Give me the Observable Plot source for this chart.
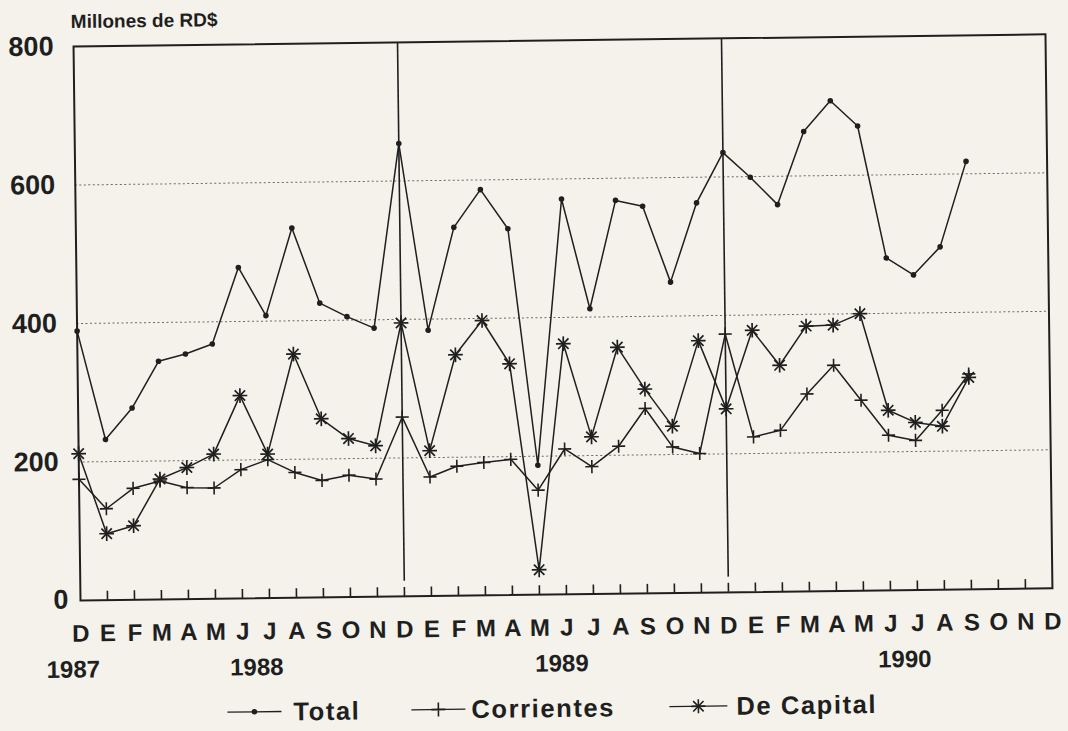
<!DOCTYPE html>
<html>
<head>
<meta charset="utf-8">
<script src="https://cdn.jsdelivr.net/npm/d3@7"></script>
<script src="https://cdn.jsdelivr.net/npm/@observablehq/plot@0.6"></script>
<style>
  html, body { margin: 0; padding: 0; background: #f4f2ea; overflow: hidden; }
  #page { position: relative; width: 1068px; height: 731px; transform: rotate(-0.72deg); transform-origin: 80px 600px; }
  #overlay { position: absolute; left: 0; top: 0; pointer-events: none; }
  #chart { position: absolute; left: 0; top: 0; }
</style>
</head>
<body>
<div id="page">
  <div id="chart"></div>
  <svg id="overlay" width="1068" height="731" font-family="'Liberation Sans', Arial, sans-serif" font-weight="bold" fill="#1f1f1f">
    <text x="78" y="28" font-size="19">Millones de RD$</text>
    <g id="legend"></g>
  </svg>
</div>
<script>
// ---- data (monthly, Dec 1987 .. Sep 1990), millones de RD$ ----
const monthLetters = ["D","E","F","M","A","M","J","J","A","S","O","N",
                      "D","E","F","M","A","M","J","J","A","S","O","N",
                      "D","E","F","M","A","M","J","J","A","S","O","N","D"];
const total = [389, 232, 277, 344, 354, 368, 478, 408, 534, 425, 405, 388,
               654, 384, 532, 586, 529, 187, 571, 412, 568, 559, 449, 563,
               635, 599, 559, 664, 708, 671, 480, 455, 495, 618];
const corrientes = [175, 132, 161, 171, 161, 160, 186, 200, 181, 169, 176, 170,
                    259, 172, 187, 192, 196, 151, 210, 184, 213, 267, 211, 201,
                    373, 224, 233, 285, 326, 275, 224, 216, 259, 311];
const deCapital = [212, 96, 107, 174, 190, 209, 293, 208, 352, 258, 229, 218,
                   395, 210, 348, 397, 334, 36, 362, 227, 356, 295, 241, 364,
                   265, 378, 327, 383, 384, 400, 260, 242, 236, 306];
const yTicks = [200, 400, 600, 800];
const gridValues = [200, 400, 600];
const yearLabels = ["1987", "1988", "1989", "1990"];
const yearAt = [-0.3, 6.5, 17.8, 30.5];   // month index under which each year label sits
const yearDividers = [12, 24];             // December of 1988 and 1989
const seriesNames = ["Total", "Corrientes", "De Capital"];

const rows = total.map((v, i) => ({i, total: v, corr: corrientes[i], cap: deCapital[i]}));
const ink = "#1f1f1f";
const font = "'Liberation Sans', Arial, sans-serif";

const chart = Plot.plot({
  width: 1068,
  height: 731,
  marginLeft: 80,
  marginRight: 16,
  marginTop: 46,
  marginBottom: 131,
  x: {domain: [0, monthLetters.length - 1], axis: null},
  y: {domain: [0, 800], axis: null},
  style: {background: "transparent", fontFamily: font, color: ink, overflow: "visible"},
  marks: [
    Plot.ruleY(gridValues, {y: d => d, stroke: "#6a6a66", strokeWidth: 1, strokeDasharray: "2,2.5"}),
    Plot.ruleX(yearDividers, {x: d => d, y1: 22, y2: 800, stroke: ink, strokeWidth: 1.6}),
    Plot.ruleX(d3.range(1, monthLetters.length - 1), {x: d => d, y1: 0, y2: 13, stroke: ink, strokeWidth: 1.6}),
    Plot.frame({stroke: ink, strokeWidth: 2}),
    Plot.line(rows, {x: "i", y: "total", stroke: ink, strokeWidth: 1.5}),
    Plot.dot(rows, {x: "i", y: "total", r: 2.8, fill: ink}),
    Plot.line(rows, {x: "i", y: "corr", stroke: ink, strokeWidth: 1.5}),
    Plot.dot(rows, {x: "i", y: "corr", symbol: "plus", r: 4.3, stroke: ink, strokeWidth: 1.6}),
    Plot.line(rows, {x: "i", y: "cap", stroke: ink, strokeWidth: 1.5}),
    Plot.dot(rows, {x: "i", y: "cap", symbol: "plus", r: 4.8, stroke: ink, strokeWidth: 1.7}),
    Plot.dot(rows, {x: "i", y: "cap", symbol: "times", r: 4.8, stroke: ink, strokeWidth: 1.7}),
    Plot.axisX(d3.range(0, monthLetters.length), {tickFormat: i => monthLetters[i], tickSize: 0, tickPadding: 24, fontSize: 24, fontWeight: "bold", fill: ink, label: null}),
    Plot.axisY(yTicks, {tickSize: 0, tickPadding: 20, fontSize: 27, fontWeight: "bold", fill: ink, label: null}),
    Plot.text(["0"], {text: d => d, frameAnchor: "bottom-left", dx: -12, dy: 8, textAnchor: "end", fontSize: 27, fontWeight: "bold", fill: ink}),
    Plot.text(yearLabels, {text: d => d, x: (d, i) => yearAt[i], frameAnchor: "bottom", dy: 77, fontSize: 24, fontWeight: "bold", fill: ink})
  ]
});
document.getElementById("chart").appendChild(chart);

// ---- legend (real text) ----
const ns = "http://www.w3.org/2000/svg";
const lg = document.getElementById("legend");
function el(tag, attrs, text) {
  const e = document.createElementNS(ns, tag);
  for (const k in attrs) e.setAttribute(k, attrs[k]);
  if (text) e.textContent = text;
  lg.appendChild(e);
  return e;
}
const legendItems = [
  {x1: 226, x2: 280, m: 253, tx: 292, kind: "dot"},
  {x1: 410, x2: 464, m: 437, tx: 470, kind: "plus"},
  {x1: 668, x2: 726, m: 697, tx: 735, kind: "star"}
];
legendItems.forEach((it, k) => {
  const ly = 714;
  el("line", {x1: it.x1, x2: it.x2, y1: ly, y2: ly, stroke: ink, "stroke-width": 1.3});
  if (it.kind === "dot") el("circle", {cx: it.m, cy: ly, r: 2.8, fill: ink});
  if (it.kind === "plus" || it.kind === "star") {
    const a = 7;
    el("path", {d: `M${it.m - a},${ly}H${it.m + a}M${it.m},${ly - a}V${ly + a}`, stroke: ink, "stroke-width": 1.6, fill: "none"});
  }
  if (it.kind === "star") {
    const b = 5.2;
    el("path", {d: `M${it.m - b},${ly - b}L${it.m + b},${ly + b}M${it.m - b},${ly + b}L${it.m + b},${ly - b}`, stroke: ink, "stroke-width": 1.6, fill: "none"});
  }
  el("text", {x: it.tx, y: 723, "font-size": 25.5, "letter-spacing": 1.6}, seriesNames[k]);
});
</script>
</body>
</html>
